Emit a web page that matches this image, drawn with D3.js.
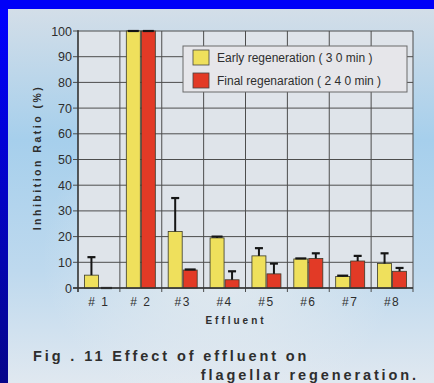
<!DOCTYPE html>
<html>
<head>
<meta charset="utf-8">
<script src="https://cdn.jsdelivr.net/npm/d3@7/dist/d3.min.js"></script>
<style>
  body { margin: 0; background: #0000f0; }
  svg { display: block; }
  text { font-family: "Liberation Sans", Arial, sans-serif; fill: #2e2e2e; }
</style>
</head>
<body>
<svg id="chart" width="434" height="383"></svg>
<script>
// data
var effluents = ["# 1", "# 2", "#3", "#4", "#5", "#6", "#7", "#8"];
var early     = [5, 100, 22, 19.5, 12.5, 11.3, 4.5, 9.5];
var earlyErr  = [12, 100, 35, 20, 15.5, 11.5, 4.8, 13.5];
var final     = [0, 100, 7, 3.2, 5.5, 11.5, 10.5, 6.5];
var finalErr  = [0, 100, 7.2, 6.5, 9.5, 13.5, 12.5, 7.8];
var yTicks    = [0, 10, 20, 30, 40, 50, 60, 70, 80, 90, 100];
var seriesNames = ["Early regeneration ( 3 0 min )", "Final regenaration ( 2 4 0 min )"];
var seriesColors = ["#efe05c", "#e23a26"];

var svg = d3.select("#chart");
var W = 434, H = 383;
var margin = {left: 78, top: 31, right: 21, bottom: 95};

// background frame
var defs = svg.append("defs");
var lg = defs.append("linearGradient").attr("id", "bg").attr("x1", 0).attr("y1", 0).attr("x2", 0).attr("y2", 1);
lg.append("stop").attr("offset", "0%").attr("stop-color", "#d3dee8");
lg.append("stop").attr("offset", "35%").attr("stop-color", "#a6cfec");
lg.append("stop").attr("offset", "70%").attr("stop-color", "#bed9ee");
lg.append("stop").attr("offset", "100%").attr("stop-color", "#e0e8f0");
var rg = defs.append("radialGradient").attr("id", "glow").attr("cx", "0.5").attr("cy", "0.66").attr("r", "0.42");
rg.append("stop").attr("offset", "0%").attr("stop-color", "#e8ecef").attr("stop-opacity", 0.9);
rg.append("stop").attr("offset", "100%").attr("stop-color", "#e8ecef").attr("stop-opacity", 0);
var side = defs.append("linearGradient").attr("id", "side").attr("x1", 0).attr("y1", 0).attr("x2", 0).attr("y2", 1);
side.append("stop").attr("offset", "0%").attr("stop-color", "#0000ff");
side.append("stop").attr("offset", "100%").attr("stop-color", "#06068a");

svg.append("rect").attr("width", W).attr("height", H).attr("fill", "#0000f8");
svg.append("rect").attr("x", 8).attr("y", 9).attr("width", W - 8).attr("height", H - 9).attr("fill", "url(#bg)");
svg.append("rect").attr("x", 8).attr("y", 9).attr("width", W - 8).attr("height", H - 9).attr("fill", "url(#glow)");
svg.append("rect").attr("x", 0).attr("y", 9).attr("width", 8).attr("height", H - 9).attr("fill", "url(#side)");

var x0 = d3.scaleBand().domain(effluents).range([margin.left, W - margin.right]);
var y = d3.scaleLinear().domain([0, 100]).range([H - margin.bottom, margin.top]);

// plot area
svg.append("rect")
  .attr("x", x0.range()[0]).attr("y", y(100))
  .attr("width", x0.range()[1] - x0.range()[0]).attr("height", y(0) - y(100))
  .attr("fill", "#dfe4ea");

// grid
var grid = svg.append("g").attr("stroke", "#4d4d4d").attr("stroke-width", 1);
grid.selectAll("line.h").data(yTicks).enter().append("line")
  .attr("x1", x0.range()[0]).attr("x2", x0.range()[1])
  .attr("y1", function(d) { return y(d); }).attr("y2", function(d) { return y(d); });
var bounds = effluents.map(function(d) { return x0(d); }).concat([x0.range()[1]]);
grid.selectAll("line.v").data(bounds).enter().append("line")
  .attr("x1", function(d) { return d; }).attr("x2", function(d) { return d; })
  .attr("y1", y(100)).attr("y2", y(0) + 4);
grid.selectAll("line.t").data(yTicks).enter().append("line")
  .attr("x1", x0.range()[0] - 5).attr("x2", x0.range()[0])
  .attr("y1", function(d) { return y(d); }).attr("y2", function(d) { return y(d); });

// y axis labels
svg.append("g").selectAll("text").data(yTicks).enter().append("text")
  .attr("x", x0.range()[0] - 6).attr("y", function(d) { return y(d) + 4.5; })
  .attr("text-anchor", "end").attr("font-size", 12.5).attr("fill", "#3a3a3a")
  .text(function(d) { return d; });

// x tick labels
svg.append("g").selectAll("text").data(effluents).enter().append("text")
  .attr("x", function(d) { return x0(d) + x0.bandwidth() / 2; }).attr("y", y(0) + 18)
  .attr("text-anchor", "middle").attr("font-size", 12).attr("fill", "#4a4a4a")
  .style("letter-spacing", "1.5px")
  .text(function(d) { return d; });

// bars
var bw = 14;
var bars = svg.append("g");
effluents.forEach(function(k, i) {
  var cx = x0(k) + x0.bandwidth() / 2;
  var xs = [cx - bw - 0.5, cx + 0.5];
  [[early[i], earlyErr[i]], [final[i], finalErr[i]]].forEach(function(v, s) {
    var bx = xs[s];
    if (v[0] > 0) {
      bars.append("rect")
        .attr("x", bx).attr("y", y(v[0]))
        .attr("width", bw).attr("height", y(0) - y(v[0]))
        .attr("fill", seriesColors[s]).attr("stroke", "#3a3a2a").attr("stroke-width", 0.8);
    }
    var ex = bx + bw / 2;
    if (v[1] > v[0]) {
      bars.append("line").attr("x1", ex).attr("x2", ex)
        .attr("y1", y(v[0])).attr("y2", y(v[1]))
        .attr("stroke", "#151515").attr("stroke-width", 2);
    }
    var cw = (v[1] - v[0] < 0.6) ? bw - 3 : 8;
    bars.append("line").attr("x1", ex - cw / 2).attr("x2", ex + cw / 2)
      .attr("y1", y(v[1])).attr("y2", y(v[1]))
      .attr("stroke", "#151515").attr("stroke-width", 2.2);
  });
});

// axes border
svg.append("line").attr("x1", x0.range()[0]).attr("x2", x0.range()[0]).attr("y1", y(100) - 1).attr("y2", y(0) + 4)
  .attr("stroke", "#333").attr("stroke-width", 1.3);
svg.append("line").attr("x1", x0.range()[0] - 5).attr("x2", x0.range()[1]).attr("y1", y(0)).attr("y2", y(0))
  .attr("stroke", "#333").attr("stroke-width", 1.3);

// legend
var leg = svg.append("g").attr("transform", "translate(183,46)");
leg.append("rect").attr("width", 224).attr("height", 46)
  .attr("fill", "#e6e6ea").attr("stroke", "#6a6a6a").attr("stroke-width", 1);
seriesNames.forEach(function(n, i) {
  leg.append("rect").attr("x", 10).attr("y", 4 + i * 23).attr("width", 16).attr("height", 15)
    .attr("fill", seriesColors[i]).attr("stroke", "#444").attr("stroke-width", 0.8);
  leg.append("text").attr("x", 34).attr("y", 16 + i * 23).attr("font-size", 12).attr("fill", "#333")
    .text(n);
});

// axis titles
svg.append("text")
  .attr("transform", "translate(41," + ((y(0) + y(100)) / 2 - 2) + ") rotate(-90)")
  .attr("text-anchor", "middle").attr("font-size", 10.5).attr("font-weight", "bold").attr("fill", "#4a4a4a")
  .style("letter-spacing", "2.5px")
  .text("Inhibition Ratio (%)");
svg.append("text")
  .attr("x", 236).attr("y", y(0) + 36)
  .attr("text-anchor", "middle").attr("font-size", 10).attr("font-weight", "bold").attr("fill", "#444")
  .style("letter-spacing", "3px")
  .text("Effluent");

// caption
svg.append("text").attr("x", 33).attr("y", 361)
  .attr("font-size", 14.5).attr("font-weight", "bold").attr("fill", "#454545")
  .style("letter-spacing", "2.9px")
  .text("Fig . 11  Effect of effluent on");
svg.append("text").attr("x", 419).attr("y", 380).attr("text-anchor", "end")
  .attr("font-size", 14.5).attr("font-weight", "bold").attr("fill", "#454545")
  .style("letter-spacing", "2.9px")
  .text("flagellar regeneration.");
</script>
</body>
</html>
